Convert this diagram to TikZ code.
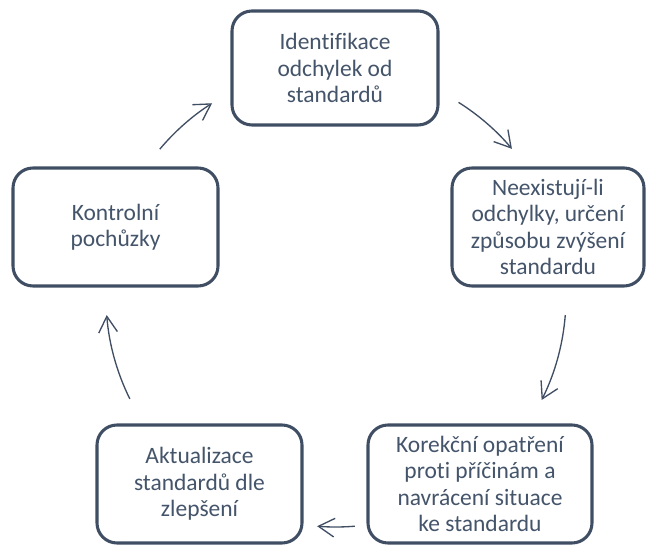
\documentclass[tikz,border=0pt]{standalone}
\usepackage{fontspec}
\setmainfont{Carlito}[Ligatures={NoCommon}]
\usetikzlibrary{arrows.meta,positioning}
\definecolor{slate}{RGB}{68,84,106}
\definecolor{slateline}{RGB}{64,78,100}

\begin{document}
\begin{tikzpicture}[x=0.75pt,y=0.75pt,
  stagebox/.style={draw=slateline, line width=2.3pt, rounded corners=15pt, fill=white,
    text=slate, align=center, inner sep=0pt,
    font=\fontsize{17.6pt}{19.8pt}\selectfont},
  cyc/.style={slateline, line width=1pt, -{Straight Barb[length=12pt,width=14pt,line width=1pt]}}]
  \useasboundingbox (0,0) rectangle (646,545);
  % stages of the cycle
  \node[stagebox, minimum width=206*0.75pt, minimum height=114*0.75pt] (ident) at (335,477)
    {Identifikace\\odchylek od\\standardů};
  \node[stagebox, minimum width=192*0.75pt, minimum height=118*0.75pt] (zvyseni) at (548,318)
    {Neexistují-li\\odchylky, určení\\způsobu zvýšení\\standardu};
  \node[stagebox, minimum width=224*0.75pt, minimum height=118*0.75pt] (korekce) at (480,61)
    {Korekční opatření\\proti příčinám a\\navrácení situace\\ke standardu};
  \node[stagebox, minimum width=205*0.75pt, minimum height=118*0.75pt] (aktual) at (199.5,61)
    {Aktualizace\\standardů dle\\zlepšení};
  \node[stagebox, minimum width=205*0.75pt, minimum height=118*0.75pt] (kontrola) at (115.5,318)
    {Kontrolní\\pochůzky};
  % arrows on the circle
  \coordinate (mid) at (336,248);
  \draw[cyc] ([shift={(140:230)}]mid) arc[start angle=140, end angle=122.6, radius=230];
  \draw[cyc] ([shift={(57.8:230)}]mid) arc[start angle=57.8, end angle=40.1, radius=230];
  \draw[cyc] ([shift={(-4.5:230)}]mid) arc[start angle=-4.5, end angle=-26.6, radius=230];
  \draw[cyc] ([shift={(-85.3:230)}]mid) arc[start angle=-85.3, end angle=-94.7, radius=230];
  \draw[cyc] ([shift={(206.3:230)}]mid) arc[start angle=206.3, end angle=184.5, radius=230];
\end{tikzpicture}
\end{document}
